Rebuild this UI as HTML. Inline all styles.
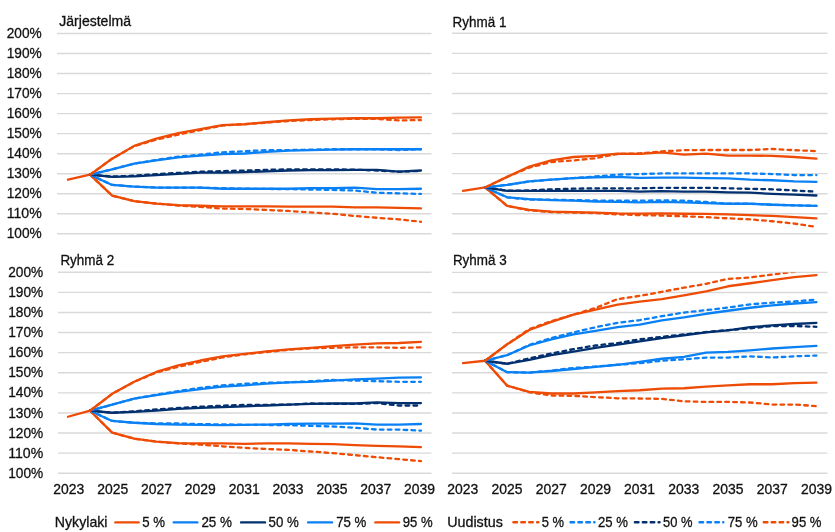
<!DOCTYPE html><html><head><meta charset="utf-8"><style>html,body{margin:0;padding:0;background:#fff;width:835px;height:532px;overflow:hidden}svg{display:block;will-change:transform}text{font-family:"Liberation Sans",sans-serif;fill:#111;stroke:#111;stroke-width:0.3px}</style></head><body>
<svg width="835" height="532" viewBox="0 0 835 532">
<rect width="835" height="532" fill="#fff"/>
<clipPath id="c0"><rect x="55" y="33.5" width="378.5" height="204.3"/></clipPath>
<line x1="57" y1="33.50" x2="431.5" y2="33.50" stroke="#D9D9D9" stroke-width="1.4"/>
<text x="41.7" y="38.10" text-anchor="end" font-size="14.6" textLength="35" lengthAdjust="spacingAndGlyphs">200%</text>
<line x1="57" y1="53.53" x2="431.5" y2="53.53" stroke="#D9D9D9" stroke-width="1.4"/>
<text x="41.7" y="58.13" text-anchor="end" font-size="14.6" textLength="35" lengthAdjust="spacingAndGlyphs">190%</text>
<line x1="57" y1="73.56" x2="431.5" y2="73.56" stroke="#D9D9D9" stroke-width="1.4"/>
<text x="41.7" y="78.16" text-anchor="end" font-size="14.6" textLength="35" lengthAdjust="spacingAndGlyphs">180%</text>
<line x1="57" y1="93.59" x2="431.5" y2="93.59" stroke="#D9D9D9" stroke-width="1.4"/>
<text x="41.7" y="98.19" text-anchor="end" font-size="14.6" textLength="35" lengthAdjust="spacingAndGlyphs">170%</text>
<line x1="57" y1="113.62" x2="431.5" y2="113.62" stroke="#D9D9D9" stroke-width="1.4"/>
<text x="41.7" y="118.22" text-anchor="end" font-size="14.6" textLength="35" lengthAdjust="spacingAndGlyphs">160%</text>
<line x1="57" y1="133.65" x2="431.5" y2="133.65" stroke="#D9D9D9" stroke-width="1.4"/>
<text x="41.7" y="138.25" text-anchor="end" font-size="14.6" textLength="35" lengthAdjust="spacingAndGlyphs">150%</text>
<line x1="57" y1="153.68" x2="431.5" y2="153.68" stroke="#D9D9D9" stroke-width="1.4"/>
<text x="41.7" y="158.28" text-anchor="end" font-size="14.6" textLength="35" lengthAdjust="spacingAndGlyphs">140%</text>
<line x1="57" y1="173.71" x2="431.5" y2="173.71" stroke="#D9D9D9" stroke-width="1.4"/>
<text x="41.7" y="178.31" text-anchor="end" font-size="14.6" textLength="35" lengthAdjust="spacingAndGlyphs">130%</text>
<line x1="57" y1="193.74" x2="431.5" y2="193.74" stroke="#D9D9D9" stroke-width="1.4"/>
<text x="41.7" y="198.34" text-anchor="end" font-size="14.6" textLength="35" lengthAdjust="spacingAndGlyphs">120%</text>
<line x1="57" y1="213.77" x2="431.5" y2="213.77" stroke="#D9D9D9" stroke-width="1.4"/>
<text x="41.7" y="218.37" text-anchor="end" font-size="14.6" textLength="35" lengthAdjust="spacingAndGlyphs">110%</text>
<line x1="57" y1="233.80" x2="431.5" y2="233.80" stroke="#D9D9D9" stroke-width="1.4"/>
<text x="41.7" y="238.40" text-anchor="end" font-size="14.6" textLength="35" lengthAdjust="spacingAndGlyphs">100%</text>
<text x="59.3" y="26.3" font-size="14" textLength="71.7" lengthAdjust="spacingAndGlyphs">Järjestelmä</text>
<g clip-path="url(#c0)"><polyline points="90.06,174.71 112.12,195.54 134.18,201.15 156.24,203.55 178.30,205.16 200.36,205.76 222.42,206.36 244.48,206.36 266.54,206.36 288.60,206.56 310.66,206.56 332.72,206.56 354.78,207.36 376.84,207.36 398.90,207.96 420.96,208.36" fill="none" stroke="#EE4B05" stroke-width="2.3" stroke-linejoin="round" stroke-linecap="round"/><polyline points="90.06,174.71 112.12,184.93 134.18,186.53 156.24,187.53 178.30,187.53 200.36,187.53 222.42,188.73 244.48,188.73 266.54,188.73 288.60,188.73 310.66,188.13 332.72,188.13 354.78,187.53 376.84,189.13 398.90,189.13 420.96,188.73" fill="none" stroke="#0A80F5" stroke-width="2.3" stroke-linejoin="round" stroke-linecap="round"/><polyline points="90.06,174.71 112.12,176.91 134.18,176.31 156.24,175.11 178.30,173.91 200.36,172.71 222.42,172.71 244.48,172.11 266.54,171.31 288.60,170.51 310.66,170.10 332.72,170.10 354.78,169.90 376.84,169.90 398.90,171.71 420.96,170.51" fill="none" stroke="#022F6E" stroke-width="2.3" stroke-linejoin="round" stroke-linecap="round"/><polyline points="90.06,174.71 112.12,169.30 134.18,163.69 156.24,160.29 178.30,157.29 200.36,155.68 222.42,154.08 244.48,153.48 266.54,151.88 288.60,150.68 310.66,150.07 332.72,149.67 354.78,149.27 376.84,149.27 398.90,149.27 420.96,149.27" fill="none" stroke="#0A80F5" stroke-width="2.3" stroke-linejoin="round" stroke-linecap="round"/><polyline points="68.00,179.72 90.06,174.71 112.12,158.69 134.18,145.87 156.24,138.66 178.30,133.05 200.36,129.04 222.42,125.04 244.48,124.24 266.54,122.23 288.60,120.43 310.66,119.23 332.72,118.63 354.78,118.23 376.84,118.23 398.90,117.63 420.96,117.43" fill="none" stroke="#EE4B05" stroke-width="2.3" stroke-linejoin="round" stroke-linecap="round"/><polyline points="90.06,174.71 112.12,195.54 134.18,201.15 156.24,203.55 178.30,205.56 200.36,206.96 222.42,208.56 244.48,208.96 266.54,209.96 288.60,210.97 310.66,212.37 332.72,213.77 354.78,215.97 376.84,217.78 398.90,219.38 420.96,221.78" fill="none" stroke="#EE4B05" stroke-width="2.3" stroke-dasharray="3.7 4.2" stroke-linejoin="round" stroke-linecap="round"/><polyline points="90.06,174.71 112.12,184.93 134.18,186.53 156.24,187.53 178.30,187.53 200.36,187.73 222.42,188.13 244.48,188.73 266.54,188.93 288.60,189.13 310.66,189.53 332.72,189.93 354.78,190.54 376.84,192.74 398.90,193.34 420.96,193.94" fill="none" stroke="#0A80F5" stroke-width="2.3" stroke-dasharray="3.7 4.2" stroke-linejoin="round" stroke-linecap="round"/><polyline points="90.06,174.71 112.12,176.51 134.18,175.71 156.24,174.11 178.30,172.91 200.36,171.71 222.42,171.11 244.48,170.51 266.54,169.90 288.60,169.30 310.66,169.30 332.72,169.30 354.78,169.70 376.84,170.51 398.90,171.71 420.96,170.91" fill="none" stroke="#022F6E" stroke-width="2.3" stroke-dasharray="3.7 4.2" stroke-linejoin="round" stroke-linecap="round"/><polyline points="90.06,174.71 112.12,169.30 134.18,163.69 156.24,159.89 178.30,156.68 200.36,154.68 222.42,152.28 244.48,151.28 266.54,150.07 288.60,150.07 310.66,149.67 332.72,149.27 354.78,149.27 376.84,149.27 398.90,150.07 420.96,149.27" fill="none" stroke="#0A80F5" stroke-width="2.3" stroke-dasharray="3.7 4.2" stroke-linejoin="round" stroke-linecap="round"/><polyline points="90.06,174.71 112.12,158.69 134.18,146.27 156.24,139.66 178.30,134.65 200.36,130.04 222.42,125.64 244.48,124.24 266.54,122.63 288.60,121.03 310.66,120.03 332.72,119.23 354.78,118.83 376.84,118.83 398.90,120.43 420.96,120.03" fill="none" stroke="#EE4B05" stroke-width="2.3" stroke-dasharray="3.7 4.2" stroke-linejoin="round" stroke-linecap="round"/></g>
<clipPath id="c1"><rect x="450" y="33.3" width="379.5" height="204.5"/></clipPath>
<line x1="452" y1="33.30" x2="827.5" y2="33.30" stroke="#D9D9D9" stroke-width="1.4"/>
<line x1="452" y1="53.35" x2="827.5" y2="53.35" stroke="#D9D9D9" stroke-width="1.4"/>
<line x1="452" y1="73.40" x2="827.5" y2="73.40" stroke="#D9D9D9" stroke-width="1.4"/>
<line x1="452" y1="93.45" x2="827.5" y2="93.45" stroke="#D9D9D9" stroke-width="1.4"/>
<line x1="452" y1="113.50" x2="827.5" y2="113.50" stroke="#D9D9D9" stroke-width="1.4"/>
<line x1="452" y1="133.55" x2="827.5" y2="133.55" stroke="#D9D9D9" stroke-width="1.4"/>
<line x1="452" y1="153.60" x2="827.5" y2="153.60" stroke="#D9D9D9" stroke-width="1.4"/>
<line x1="452" y1="173.65" x2="827.5" y2="173.65" stroke="#D9D9D9" stroke-width="1.4"/>
<line x1="452" y1="193.70" x2="827.5" y2="193.70" stroke="#D9D9D9" stroke-width="1.4"/>
<line x1="452" y1="213.75" x2="827.5" y2="213.75" stroke="#D9D9D9" stroke-width="1.4"/>
<line x1="452" y1="233.80" x2="827.5" y2="233.80" stroke="#D9D9D9" stroke-width="1.4"/>
<text x="452.6" y="26.5" font-size="14" textLength="53.8" lengthAdjust="spacingAndGlyphs">Ryhmä 1</text>
<g clip-path="url(#c1)"><polyline points="485.09,187.48 507.18,205.93 529.27,209.94 551.36,211.54 573.45,212.15 595.54,212.55 617.63,213.35 639.72,213.55 661.81,213.35 683.90,213.75 705.99,213.95 728.08,214.35 750.17,215.15 772.26,215.96 794.35,217.16 816.44,218.36" fill="none" stroke="#EE4B05" stroke-width="2.3" stroke-linejoin="round" stroke-linecap="round"/><polyline points="485.09,187.48 507.18,197.31 529.27,199.11 551.36,200.12 573.45,200.72 595.54,201.52 617.63,201.92 639.72,202.32 661.81,201.92 683.90,202.32 705.99,203.12 728.08,203.73 750.17,203.73 772.26,204.73 794.35,205.33 816.44,205.93" fill="none" stroke="#0A80F5" stroke-width="2.3" stroke-linejoin="round" stroke-linecap="round"/><polyline points="485.09,187.48 507.18,190.89 529.27,190.89 551.36,190.89 573.45,190.89 595.54,190.89 617.63,190.89 639.72,191.70 661.81,191.19 683.90,191.70 705.99,191.70 728.08,192.30 750.17,192.70 772.26,193.90 794.35,194.70 816.44,195.50" fill="none" stroke="#022F6E" stroke-width="2.3" stroke-linejoin="round" stroke-linecap="round"/><polyline points="485.09,187.48 507.18,184.88 529.27,181.47 551.36,179.67 573.45,178.06 595.54,177.26 617.63,176.86 639.72,177.86 661.81,177.66 683.90,177.66 705.99,178.06 728.08,178.46 750.17,179.67 772.26,180.27 794.35,181.47 816.44,181.87" fill="none" stroke="#0A80F5" stroke-width="2.3" stroke-linejoin="round" stroke-linecap="round"/><polyline points="463.00,190.89 485.09,187.48 507.18,176.86 529.27,166.63 551.36,160.42 573.45,157.01 595.54,155.81 617.63,153.60 639.72,153.80 661.81,152.40 683.90,154.60 705.99,153.60 728.08,155.61 750.17,155.61 772.26,155.81 794.35,157.01 816.44,158.61" fill="none" stroke="#EE4B05" stroke-width="2.3" stroke-linejoin="round" stroke-linecap="round"/><polyline points="485.09,187.48 507.18,205.93 529.27,210.34 551.36,212.15 573.45,212.55 595.54,213.15 617.63,214.35 639.72,215.15 661.81,215.55 683.90,216.26 705.99,217.16 728.08,218.36 750.17,219.36 772.26,221.27 794.35,223.57 816.44,226.98" fill="none" stroke="#EE4B05" stroke-width="2.3" stroke-dasharray="3.7 4.2" stroke-linejoin="round" stroke-linecap="round"/><polyline points="485.09,187.48 507.18,197.31 529.27,199.72 551.36,199.72 573.45,200.12 595.54,200.52 617.63,200.72 639.72,200.72 661.81,200.32 683.90,200.72 705.99,201.92 728.08,203.73 750.17,203.73 772.26,204.73 794.35,205.33 816.44,205.93" fill="none" stroke="#0A80F5" stroke-width="2.3" stroke-dasharray="3.7 4.2" stroke-linejoin="round" stroke-linecap="round"/><polyline points="485.09,187.48 507.18,190.69 529.27,190.49 551.36,189.29 573.45,188.69 595.54,188.29 617.63,188.29 639.72,188.29 661.81,187.79 683.90,187.79 705.99,187.79 728.08,188.29 750.17,188.89 772.26,189.29 794.35,190.49 816.44,191.70" fill="none" stroke="#022F6E" stroke-width="2.3" stroke-dasharray="3.7 4.2" stroke-linejoin="round" stroke-linecap="round"/><polyline points="485.09,187.48 507.18,184.88 529.27,181.47 551.36,179.67 573.45,178.06 595.54,176.46 617.63,174.65 639.72,174.05 661.81,173.45 683.90,173.45 705.99,173.45 728.08,173.45 750.17,173.45 772.26,174.05 794.35,175.05 816.44,175.05" fill="none" stroke="#0A80F5" stroke-width="2.3" stroke-dasharray="3.7 4.2" stroke-linejoin="round" stroke-linecap="round"/><polyline points="485.09,187.48 507.18,176.86 529.27,167.63 551.36,162.02 573.45,160.42 595.54,158.21 617.63,154.00 639.72,153.40 661.81,151.39 683.90,150.19 705.99,149.99 728.08,149.99 750.17,149.99 772.26,148.99 794.35,150.19 816.44,151.09" fill="none" stroke="#EE4B05" stroke-width="2.3" stroke-dasharray="3.7 4.2" stroke-linejoin="round" stroke-linecap="round"/></g>
<clipPath id="c2"><rect x="56" y="272.3" width="377.5" height="204.9"/></clipPath>
<line x1="58" y1="272.30" x2="431.5" y2="272.30" stroke="#D9D9D9" stroke-width="1.4"/>
<text x="43.2" y="276.90" text-anchor="end" font-size="14.6" textLength="35" lengthAdjust="spacingAndGlyphs">200%</text>
<line x1="58" y1="292.39" x2="431.5" y2="292.39" stroke="#D9D9D9" stroke-width="1.4"/>
<text x="43.2" y="296.99" text-anchor="end" font-size="14.6" textLength="35" lengthAdjust="spacingAndGlyphs">190%</text>
<line x1="58" y1="312.48" x2="431.5" y2="312.48" stroke="#D9D9D9" stroke-width="1.4"/>
<text x="43.2" y="317.08" text-anchor="end" font-size="14.6" textLength="35" lengthAdjust="spacingAndGlyphs">180%</text>
<line x1="58" y1="332.57" x2="431.5" y2="332.57" stroke="#D9D9D9" stroke-width="1.4"/>
<text x="43.2" y="337.17" text-anchor="end" font-size="14.6" textLength="35" lengthAdjust="spacingAndGlyphs">170%</text>
<line x1="58" y1="352.66" x2="431.5" y2="352.66" stroke="#D9D9D9" stroke-width="1.4"/>
<text x="43.2" y="357.26" text-anchor="end" font-size="14.6" textLength="35" lengthAdjust="spacingAndGlyphs">160%</text>
<line x1="58" y1="372.75" x2="431.5" y2="372.75" stroke="#D9D9D9" stroke-width="1.4"/>
<text x="43.2" y="377.35" text-anchor="end" font-size="14.6" textLength="35" lengthAdjust="spacingAndGlyphs">150%</text>
<line x1="58" y1="392.84" x2="431.5" y2="392.84" stroke="#D9D9D9" stroke-width="1.4"/>
<text x="43.2" y="397.44" text-anchor="end" font-size="14.6" textLength="35" lengthAdjust="spacingAndGlyphs">140%</text>
<line x1="58" y1="412.93" x2="431.5" y2="412.93" stroke="#D9D9D9" stroke-width="1.4"/>
<text x="43.2" y="417.53" text-anchor="end" font-size="14.6" textLength="35" lengthAdjust="spacingAndGlyphs">130%</text>
<line x1="58" y1="433.02" x2="431.5" y2="433.02" stroke="#D9D9D9" stroke-width="1.4"/>
<text x="43.2" y="437.62" text-anchor="end" font-size="14.6" textLength="35" lengthAdjust="spacingAndGlyphs">120%</text>
<line x1="58" y1="453.11" x2="431.5" y2="453.11" stroke="#D9D9D9" stroke-width="1.4"/>
<text x="43.2" y="457.71" text-anchor="end" font-size="14.6" textLength="35" lengthAdjust="spacingAndGlyphs">110%</text>
<line x1="58" y1="473.20" x2="431.5" y2="473.20" stroke="#D9D9D9" stroke-width="1.4"/>
<text x="43.2" y="477.80" text-anchor="end" font-size="14.6" textLength="35" lengthAdjust="spacingAndGlyphs">100%</text>
<text x="60.4" y="264.8" font-size="14" textLength="53.8" lengthAdjust="spacingAndGlyphs">Ryhmä 2</text>
<g clip-path="url(#c2)"><polyline points="90.06,410.72 112.12,432.62 134.18,438.65 156.24,441.66 178.30,443.06 200.36,443.47 222.42,443.47 244.48,443.87 266.54,443.47 288.60,443.47 310.66,443.87 332.72,444.07 354.78,445.07 376.84,445.88 398.90,446.28 420.96,447.08" fill="none" stroke="#EE4B05" stroke-width="2.3" stroke-linejoin="round" stroke-linecap="round"/><polyline points="90.06,410.72 112.12,420.97 134.18,422.77 156.24,423.98 178.30,424.58 200.36,424.78 222.42,425.18 244.48,424.78 266.54,424.58 288.60,423.98 310.66,423.58 332.72,423.58 354.78,423.38 376.84,424.58 398.90,424.58 420.96,423.98" fill="none" stroke="#0A80F5" stroke-width="2.3" stroke-linejoin="round" stroke-linecap="round"/><polyline points="90.06,410.72 112.12,412.73 134.18,411.93 156.24,410.72 178.30,408.91 200.36,407.91 222.42,407.10 244.48,406.30 266.54,405.50 288.60,404.69 310.66,403.89 332.72,403.49 354.78,403.49 376.84,402.28 398.90,403.09 420.96,403.09" fill="none" stroke="#022F6E" stroke-width="2.3" stroke-linejoin="round" stroke-linecap="round"/><polyline points="90.06,410.72 112.12,404.69 134.18,398.67 156.24,395.05 178.30,391.84 200.36,389.02 222.42,386.61 244.48,385.41 266.54,383.60 288.60,382.39 310.66,381.79 332.72,380.59 354.78,379.38 376.84,378.58 398.90,377.57 420.96,377.37" fill="none" stroke="#0A80F5" stroke-width="2.3" stroke-linejoin="round" stroke-linecap="round"/><polyline points="68.00,416.75 90.06,410.72 112.12,393.84 134.18,381.79 156.24,371.95 178.30,365.32 200.36,360.50 222.42,356.28 244.48,353.87 266.54,351.45 288.60,349.45 310.66,347.84 332.72,346.03 354.78,344.62 376.84,343.42 398.90,343.02 420.96,341.81" fill="none" stroke="#EE4B05" stroke-width="2.3" stroke-linejoin="round" stroke-linecap="round"/><polyline points="90.06,410.72 112.12,432.62 134.18,438.65 156.24,441.66 178.30,443.47 200.36,444.67 222.42,446.28 244.48,447.89 266.54,448.99 288.60,449.90 310.66,451.50 332.72,453.11 354.78,455.12 376.84,457.23 398.90,459.14 420.96,461.15" fill="none" stroke="#EE4B05" stroke-width="2.3" stroke-dasharray="3.7 4.2" stroke-linejoin="round" stroke-linecap="round"/><polyline points="90.06,410.72 112.12,420.97 134.18,422.77 156.24,423.38 178.30,423.38 200.36,424.18 222.42,424.38 244.48,424.78 266.54,424.98 288.60,425.18 310.66,425.79 332.72,426.49 354.78,427.70 376.84,429.60 398.90,429.60 420.96,430.61" fill="none" stroke="#0A80F5" stroke-width="2.3" stroke-dasharray="3.7 4.2" stroke-linejoin="round" stroke-linecap="round"/><polyline points="90.06,410.72 112.12,412.73 134.18,411.32 156.24,409.51 178.30,407.91 200.36,406.70 222.42,405.70 244.48,404.89 266.54,404.79 288.60,404.69 310.66,403.49 332.72,403.89 354.78,403.89 376.84,403.09 398.90,405.50 420.96,405.50" fill="none" stroke="#022F6E" stroke-width="2.3" stroke-dasharray="3.7 4.2" stroke-linejoin="round" stroke-linecap="round"/><polyline points="90.06,410.72 112.12,404.69 134.18,398.67 156.24,394.65 178.30,391.03 200.36,387.82 222.42,385.41 244.48,383.80 266.54,382.80 288.60,382.39 310.66,381.19 332.72,379.98 354.78,380.59 376.84,381.19 398.90,381.79 420.96,381.79" fill="none" stroke="#0A80F5" stroke-width="2.3" stroke-dasharray="3.7 4.2" stroke-linejoin="round" stroke-linecap="round"/><polyline points="90.06,410.72 112.12,393.84 134.18,381.79 156.24,372.55 178.30,366.72 200.36,361.90 222.42,357.48 244.48,354.27 266.54,352.06 288.60,349.85 310.66,348.24 332.72,347.84 354.78,347.34 376.84,347.34 398.90,347.84 420.96,347.34" fill="none" stroke="#EE4B05" stroke-width="2.3" stroke-dasharray="3.7 4.2" stroke-linejoin="round" stroke-linecap="round"/></g>
<clipPath id="c3"><rect x="450" y="272.4" width="379.5" height="204.8"/></clipPath>
<line x1="452" y1="272.40" x2="827.5" y2="272.40" stroke="#D9D9D9" stroke-width="1.4"/>
<line x1="452" y1="292.48" x2="827.5" y2="292.48" stroke="#D9D9D9" stroke-width="1.4"/>
<line x1="452" y1="312.56" x2="827.5" y2="312.56" stroke="#D9D9D9" stroke-width="1.4"/>
<line x1="452" y1="332.64" x2="827.5" y2="332.64" stroke="#D9D9D9" stroke-width="1.4"/>
<line x1="452" y1="352.72" x2="827.5" y2="352.72" stroke="#D9D9D9" stroke-width="1.4"/>
<line x1="452" y1="372.80" x2="827.5" y2="372.80" stroke="#D9D9D9" stroke-width="1.4"/>
<line x1="452" y1="392.88" x2="827.5" y2="392.88" stroke="#D9D9D9" stroke-width="1.4"/>
<line x1="452" y1="412.96" x2="827.5" y2="412.96" stroke="#D9D9D9" stroke-width="1.4"/>
<line x1="452" y1="433.04" x2="827.5" y2="433.04" stroke="#D9D9D9" stroke-width="1.4"/>
<line x1="452" y1="453.12" x2="827.5" y2="453.12" stroke="#D9D9D9" stroke-width="1.4"/>
<line x1="452" y1="473.20" x2="827.5" y2="473.20" stroke="#D9D9D9" stroke-width="1.4"/>
<text x="452.9" y="264.8" font-size="14" textLength="53.8" lengthAdjust="spacingAndGlyphs">Ryhmä 3</text>
<g clip-path="url(#c3)"><polyline points="485.09,360.75 507.18,385.65 529.27,391.88 551.36,393.48 573.45,393.48 595.54,392.28 617.63,391.07 639.72,390.27 661.81,388.66 683.90,388.26 705.99,386.66 728.08,385.45 750.17,384.25 772.26,384.25 794.35,383.04 816.44,382.64" fill="none" stroke="#EE4B05" stroke-width="2.3" stroke-linejoin="round" stroke-linecap="round"/><polyline points="485.09,360.75 507.18,372.20 529.27,372.60 551.36,370.99 573.45,368.98 595.54,366.78 617.63,364.77 639.72,361.96 661.81,358.74 683.90,356.94 705.99,352.72 728.08,351.92 750.17,350.31 772.26,348.50 794.35,347.10 816.44,345.89" fill="none" stroke="#0A80F5" stroke-width="2.3" stroke-linejoin="round" stroke-linecap="round"/><polyline points="485.09,360.75 507.18,363.76 529.27,359.95 551.36,355.13 573.45,351.52 595.54,347.90 617.63,344.69 639.72,341.48 661.81,338.06 683.90,335.25 705.99,332.44 728.08,330.43 750.17,327.22 772.26,325.41 794.35,324.01 816.44,322.80" fill="none" stroke="#022F6E" stroke-width="2.3" stroke-linejoin="round" stroke-linecap="round"/><polyline points="485.09,360.75 507.18,355.13 529.27,345.49 551.36,339.27 573.45,334.45 595.54,330.83 617.63,327.22 639.72,324.61 661.81,320.39 683.90,317.38 705.99,313.76 728.08,310.75 750.17,307.74 772.26,305.33 794.35,303.52 816.44,302.12" fill="none" stroke="#0A80F5" stroke-width="2.3" stroke-linejoin="round" stroke-linecap="round"/><polyline points="463.00,363.16 485.09,360.75 507.18,344.29 529.27,330.03 551.36,321.80 573.45,314.57 595.54,309.55 617.63,304.73 639.72,301.52 661.81,299.11 683.90,295.49 705.99,291.48 728.08,286.26 750.17,283.24 772.26,280.23 794.35,277.22 816.44,275.21" fill="none" stroke="#EE4B05" stroke-width="2.3" stroke-linejoin="round" stroke-linecap="round"/><polyline points="485.09,360.75 507.18,385.65 529.27,392.28 551.36,395.49 573.45,395.89 595.54,397.10 617.63,398.30 639.72,398.50 661.81,398.90 683.90,401.31 705.99,401.92 728.08,401.92 750.17,402.52 772.26,404.53 794.35,404.53 816.44,406.13" fill="none" stroke="#EE4B05" stroke-width="2.3" stroke-dasharray="3.7 4.2" stroke-linejoin="round" stroke-linecap="round"/><polyline points="485.09,360.75 507.18,372.20 529.27,372.60 551.36,370.59 573.45,367.98 595.54,366.58 617.63,364.77 639.72,363.16 661.81,360.75 683.90,359.35 705.99,357.54 728.08,357.54 750.17,356.33 772.26,357.54 794.35,356.33 816.44,355.53" fill="none" stroke="#0A80F5" stroke-width="2.3" stroke-dasharray="3.7 4.2" stroke-linejoin="round" stroke-linecap="round"/><polyline points="485.09,360.75 507.18,363.76 529.27,358.34 551.36,353.52 573.45,349.11 595.54,345.49 617.63,343.08 639.72,339.27 661.81,336.86 683.90,334.45 705.99,332.04 728.08,330.03 750.17,328.42 772.26,326.01 794.35,326.01 816.44,326.82" fill="none" stroke="#022F6E" stroke-width="2.3" stroke-dasharray="3.7 4.2" stroke-linejoin="round" stroke-linecap="round"/><polyline points="485.09,360.75 507.18,355.13 529.27,344.89 551.36,338.06 573.45,332.44 595.54,327.22 617.63,322.80 639.72,320.19 661.81,316.17 683.90,312.56 705.99,310.15 728.08,307.54 750.17,304.33 772.26,302.72 794.35,301.52 816.44,299.51" fill="none" stroke="#0A80F5" stroke-width="2.3" stroke-dasharray="3.7 4.2" stroke-linejoin="round" stroke-linecap="round"/><polyline points="485.09,360.75 507.18,344.29 529.27,329.03 551.36,321.19 573.45,314.57 595.54,307.94 617.63,299.11 639.72,295.89 661.81,291.88 683.90,287.66 705.99,283.85 728.08,278.83 750.17,277.42 772.26,274.61 794.35,271.80 816.44,268.38" fill="none" stroke="#EE4B05" stroke-width="2.3" stroke-dasharray="3.7 4.2" stroke-linejoin="round" stroke-linecap="round"/></g>
<text x="68.80" y="494" text-anchor="middle" font-size="14.6" textLength="31" lengthAdjust="spacingAndGlyphs">2023</text>
<text x="462.80" y="494" text-anchor="middle" font-size="14.6" textLength="31" lengthAdjust="spacingAndGlyphs">2023</text>
<text x="112.65" y="494" text-anchor="middle" font-size="14.6" textLength="31" lengthAdjust="spacingAndGlyphs">2025</text>
<text x="507.00" y="494" text-anchor="middle" font-size="14.6" textLength="31" lengthAdjust="spacingAndGlyphs">2025</text>
<text x="156.50" y="494" text-anchor="middle" font-size="14.6" textLength="31" lengthAdjust="spacingAndGlyphs">2027</text>
<text x="551.20" y="494" text-anchor="middle" font-size="14.6" textLength="31" lengthAdjust="spacingAndGlyphs">2027</text>
<text x="200.35" y="494" text-anchor="middle" font-size="14.6" textLength="31" lengthAdjust="spacingAndGlyphs">2029</text>
<text x="595.40" y="494" text-anchor="middle" font-size="14.6" textLength="31" lengthAdjust="spacingAndGlyphs">2029</text>
<text x="244.20" y="494" text-anchor="middle" font-size="14.6" textLength="31" lengthAdjust="spacingAndGlyphs">2031</text>
<text x="639.60" y="494" text-anchor="middle" font-size="14.6" textLength="31" lengthAdjust="spacingAndGlyphs">2031</text>
<text x="288.05" y="494" text-anchor="middle" font-size="14.6" textLength="31" lengthAdjust="spacingAndGlyphs">2033</text>
<text x="683.80" y="494" text-anchor="middle" font-size="14.6" textLength="31" lengthAdjust="spacingAndGlyphs">2033</text>
<text x="331.90" y="494" text-anchor="middle" font-size="14.6" textLength="31" lengthAdjust="spacingAndGlyphs">2035</text>
<text x="728.00" y="494" text-anchor="middle" font-size="14.6" textLength="31" lengthAdjust="spacingAndGlyphs">2035</text>
<text x="375.75" y="494" text-anchor="middle" font-size="14.6" textLength="31" lengthAdjust="spacingAndGlyphs">2037</text>
<text x="772.20" y="494" text-anchor="middle" font-size="14.6" textLength="31" lengthAdjust="spacingAndGlyphs">2037</text>
<text x="419.60" y="494" text-anchor="middle" font-size="14.6" textLength="31" lengthAdjust="spacingAndGlyphs">2039</text>
<text x="816.40" y="494" text-anchor="middle" font-size="14.6" textLength="31" lengthAdjust="spacingAndGlyphs">2039</text>
<text x="54.8" y="527.2" font-size="14.6" textLength="52.7" lengthAdjust="spacingAndGlyphs">Nykylaki</text><line x1="115.4" y1="522.4" x2="138.6" y2="522.4" stroke="#EE4B05" stroke-width="2.4" stroke-linecap="round"/><text x="142.2" y="527.1" font-size="14.6" textLength="22.8" lengthAdjust="spacingAndGlyphs">5 %</text><line x1="173.8" y1="522.4" x2="197.3" y2="522.4" stroke="#0A80F5" stroke-width="2.4" stroke-linecap="round"/><text x="201.4" y="527.1" font-size="14.6" textLength="30.6" lengthAdjust="spacingAndGlyphs">25 %</text><line x1="241.1" y1="522.4" x2="265" y2="522.4" stroke="#022F6E" stroke-width="2.4" stroke-linecap="round"/><text x="268.6" y="527.1" font-size="14.6" textLength="30.2" lengthAdjust="spacingAndGlyphs">50 %</text><line x1="308.1" y1="522.4" x2="332" y2="522.4" stroke="#0A80F5" stroke-width="2.4" stroke-linecap="round"/><text x="336.2" y="527.1" font-size="14.6" textLength="30.2" lengthAdjust="spacingAndGlyphs">75 %</text><line x1="375.4" y1="522.4" x2="399" y2="522.4" stroke="#EE4B05" stroke-width="2.4" stroke-linecap="round"/><text x="402.7" y="527.1" font-size="14.6" textLength="29.9" lengthAdjust="spacingAndGlyphs">95 %</text>
<text x="447.2" y="527.2" font-size="14.6" textLength="55.6" lengthAdjust="spacingAndGlyphs">Uudistus</text><path d="M513.45 522.3H516.95M521.35 522.3H524.85M529.25 522.3H532.75M537.15 522.3H538.25" stroke="#EE4B05" stroke-width="2.5" stroke-linecap="round" fill="none"/><text x="541.8" y="527.1" font-size="14.6" textLength="22.3" lengthAdjust="spacingAndGlyphs">5 %</text><path d="M570.55 522.3H574.05M578.45 522.3H581.95M586.35 522.3H589.85M594.25 522.3H594.45" stroke="#0A80F5" stroke-width="2.5" stroke-linecap="round" fill="none"/><text x="598" y="527.1" font-size="14.6" textLength="30" lengthAdjust="spacingAndGlyphs">25 %</text><path d="M634.95 522.3H638.45M642.85 522.3H646.35M650.75 522.3H654.25M658.65 522.3H659.45" stroke="#022F6E" stroke-width="2.5" stroke-linecap="round" fill="none"/><text x="663.1" y="527.1" font-size="14.6" textLength="29.5" lengthAdjust="spacingAndGlyphs">50 %</text><path d="M699.55 522.3H703.05M707.45 522.3H710.95M715.35 522.3H718.85M723.25 522.3H723.26" stroke="#0A80F5" stroke-width="2.5" stroke-linecap="round" fill="none"/><text x="727.7" y="527.1" font-size="14.6" textLength="30" lengthAdjust="spacingAndGlyphs">75 %</text><path d="M763.85 522.3H767.35M771.75 522.3H775.25M779.65 522.3H783.15M787.55 522.3H788.35" stroke="#EE4B05" stroke-width="2.5" stroke-linecap="round" fill="none"/><text x="791.6" y="527.1" font-size="14.6" textLength="29.9" lengthAdjust="spacingAndGlyphs">95 %</text>
</svg></body></html>
